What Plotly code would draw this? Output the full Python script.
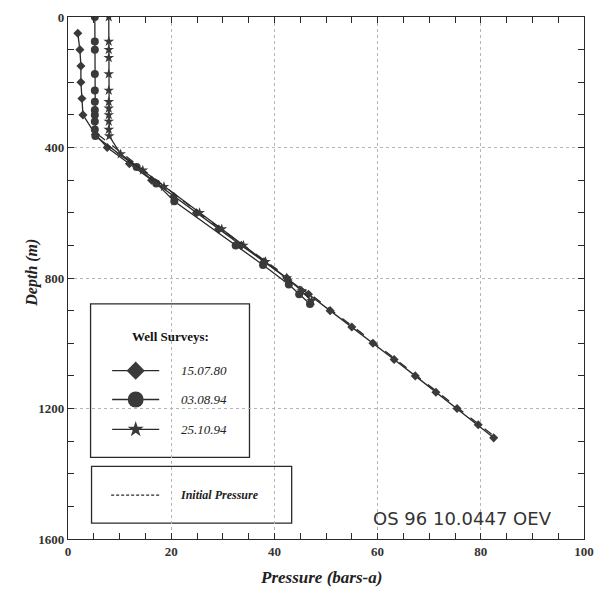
import plotly.graph_objects as go

# ---- data ----
s80_depth = [50, 100, 150, 200, 250, 300, 360, 400, 450, 500, 550, 600, 650, 700, 750,
             800, 850, 900, 950, 1000, 1050, 1100, 1150, 1200, 1250, 1290]
s80_press = [1.9, 2.3, 2.5, 2.5, 2.7, 2.9, 5.3, 7.6, 11.9, 16.2, 20.5, 24.9, 29.2, 33.6, 38.0,
             42.4, 46.6, 50.8, 55.0, 59.1, 63.2, 67.3, 71.3, 75.4, 79.5, 82.5]

s94a_depth = [0, 75, 100, 175, 225, 260, 285, 300, 320, 345, 365, 460, 510, 565, 700, 760, 820, 850, 880]
s94a_press = [5.2, 5.2, 5.2, 5.2, 5.2, 5.2, 5.2, 5.2, 5.2, 5.2, 5.3, 13.3, 17.1, 20.6, 32.5, 37.8, 42.8, 44.8, 46.9]

s94b_depth = [0, 75, 100, 125, 175, 225, 260, 280, 300, 320, 345, 365, 420, 470, 520, 600, 650,
              700, 750, 800, 840, 870]
s94b_press = [7.9, 7.9, 7.9, 7.9, 7.9, 7.9, 7.9, 7.9, 7.9, 7.9, 7.9, 8.0, 10.2, 14.5, 18.6, 25.5, 29.8,
              34.0, 38.3, 42.4, 45.3, 47.2]

init_depth = [360, 600, 800, 1000, 1290]
init_press = [5.8, 25.3, 42.8, 59.5, 83.0]

legend_labels = ["15.07.80", "03.08.94", "25.10.94"]
x_ticks = [0, 20, 40, 60, 80, 100]
y_ticks = [0, 400, 800, 1200, 1600]

INK = "#2a2a2a"
SERIF = "Liberation Serif"

L, R, T, B = 68, 10, 15, 52
W, H = 604, 591
PW, PH = W - L - R, H - T - B

fig = go.Figure()

fig.add_trace(go.Scatter(x=init_press, y=init_depth, mode="lines",
                         line=dict(color=INK, width=1.3, dash="dash"), showlegend=False))
fig.add_trace(go.Scatter(x=s80_press, y=s80_depth, mode="lines+markers",
                         line=dict(color=INK, width=1.3),
                         marker=dict(symbol="diamond", size=7, color="#3a3a3a"), showlegend=False))
fig.add_trace(go.Scatter(x=s94a_press, y=s94a_depth, mode="lines+markers",
                         line=dict(color=INK, width=1.3),
                         marker=dict(symbol="circle", size=8, color="#3a3a3a"), showlegend=False))
fig.add_trace(go.Scatter(x=s94b_press, y=s94b_depth, mode="lines+markers",
                         line=dict(color=INK, width=1.3),
                         marker=dict(symbol="star", size=8, color="#3a3a3a"), showlegend=False))

# ---- hand-drawn legend on an overlay axis in pixel units ----
leg_y = [370, 399, 429]
leg_sym = ["diamond", "circle", "star"]
leg_size = [14, 16, 12]
for yy, sym, sz in zip(leg_y, leg_sym, leg_size):
    fig.add_trace(go.Scatter(x=[113, 137, 161], y=[yy, yy, yy], mode="lines",
                             line=dict(color=INK, width=1.4), xaxis="x2", yaxis="y2",
                             showlegend=False, hoverinfo="skip"))
    fig.add_trace(go.Scatter(x=[137], y=[yy], mode="markers",
                             marker=dict(symbol=sym, size=sz, color="#3a3a3a"),
                             xaxis="x2", yaxis="y2", showlegend=False, hoverinfo="skip"))
fig.add_trace(go.Scatter(x=[112, 163], y=[495, 495], mode="lines",
                         line=dict(color=INK, width=1.4, dash="3px,2px"), xaxis="x2", yaxis="y2",
                         showlegend=False, hoverinfo="skip"))

shapes = [
    dict(type="rect", xref="x2", yref="y2", x0=91, x1=253, y0=303, y1=457,
         line=dict(color=INK, width=1.3), fillcolor="white", layer="below"),
    dict(type="rect", xref="x2", yref="y2", x0=92, x1=296, y0=466, y1=523,
         line=dict(color=INK, width=1.3), fillcolor="white", layer="below"),
]


def px_x(p):
    return (p - L) / PW


def px_y(p):
    return 1 - (p - T) / PH


def ann(text, x, y, font, xanchor="center", angle=0):
    return dict(text=text, x=px_x(x), y=px_y(y), xref="paper", yref="paper",
                xanchor=xanchor, yanchor="middle", textangle=angle,
                showarrow=False, font=font)


annotations = [
    ann("<b>Well Surveys:</b>", 172, 336, dict(family=SERIF, size=13, color="#111")),
    ann("<b><i>Initial Pressure</i></b>", 180, 495, dict(family=SERIF, size=12, color="#222"), "left"),
    ann("OS 96 10.0447 OEV", 377, 518, dict(family="DejaVu Sans", size=18, color="#333"), "left"),
    ann("<b><i>Pressure (bars-a)</i></b>", 326, 578, dict(family=SERIF, size=17, color="#222")),
    ann("<b><i>Depth (m)</i></b>", 31, 272, dict(family=SERIF, size=16, color="#222"), "center", -90),
]
for yy, lab in zip(leg_y, legend_labels):
    annotations.append(ann("<i>" + lab + "</i>", 181, yy,
                           dict(family=SERIF, size=13, color="#222"), "left"))

grid = dict(showgrid=True, gridcolor="#b5b5b5", griddash="dot", gridwidth=1)
tickfont = dict(family=SERIF, size=13, color="#333", weight="bold")

fig.update_layout(
    width=W, height=H,
    margin=dict(l=L, r=R, t=T, b=B),
    paper_bgcolor="white", plot_bgcolor="white",
    shapes=shapes, annotations=annotations,
    xaxis=dict(range=[0, 100], tickvals=x_ticks, ticks="inside", ticklen=0,
               showline=True, linecolor=INK, linewidth=1.3, mirror="ticks", zeroline=False,
               tickfont=tickfont,
               minor=dict(dtick=5, ticks="inside", ticklen=6, tickcolor=INK, showgrid=False),
               **grid),
    yaxis=dict(range=[1600, 0], tickvals=y_ticks, ticks="inside", ticklen=0,
               showline=True, linecolor=INK, linewidth=1.3, mirror="ticks", zeroline=False,
               tickfont=tickfont,
               minor=dict(dtick=100, ticks="inside", ticklen=6, tickcolor=INK, showgrid=False),
               **grid),
    xaxis2=dict(overlaying="x", range=[L, L + PW], visible=False, anchor="y2", fixedrange=True),
    yaxis2=dict(overlaying="y", range=[T + PH, T], visible=False, anchor="x2", fixedrange=True),
)

fig.write_html("out.html")
